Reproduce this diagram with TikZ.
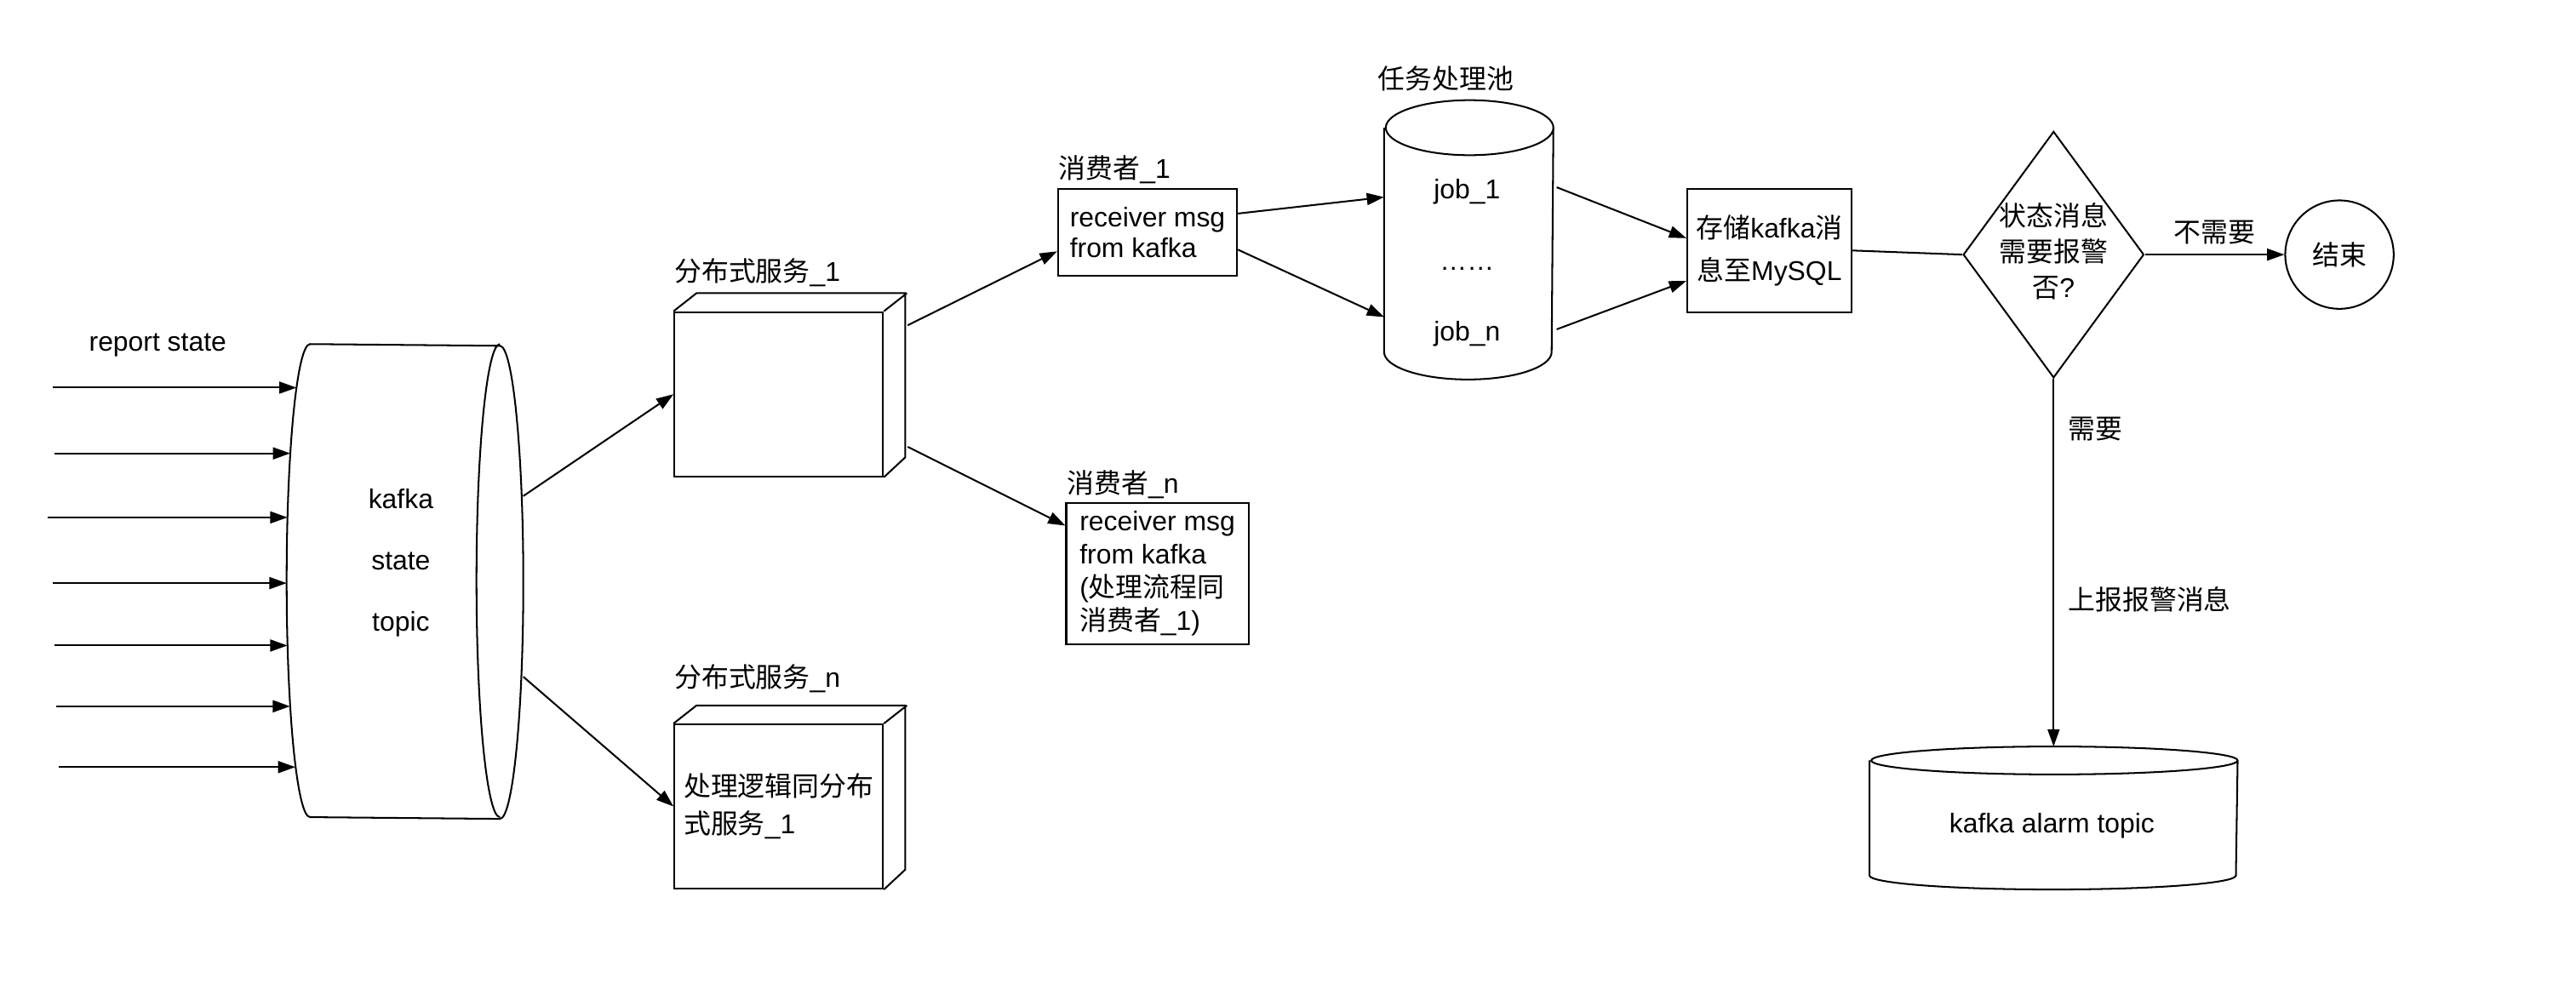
\documentclass[tikz,border=0pt]{standalone}
\usepackage{fontspec}
\setmainfont{Liberation Sans}
\newfontfamily\zh{Noto Sans CJK SC}
\usetikzlibrary{shapes.geometric,arrows.meta}

\begin{document}
\begin{tikzpicture}[x=0.2mm,y=-0.2mm,line width=0.6pt,
  font=\fontsize{9.4}{11}\selectfont,
  arr/.style={-{Triangle[length=2.1mm,width=1.45mm]}},
  frame/.style={draw,inner sep=0pt},
  hull/.style={inner sep=0pt},
  tag/.style={anchor=west,inner sep=0pt}]
  \useasboundingbox (0,0) rectangle (1568,602);

  % kafka state topic
  \node[hull, minimum width=28.6mm, minimum height=57.6mm] (kafka) at (246.5,354) {};
  \draw ([xshift=2.85mm]kafka.north west) arc[start angle=90, end angle=270, x radius=2.85mm, y radius=28.8mm]
     -- ([xshift=-2.85mm]kafka.south east) arc[start angle=-90, end angle=90, x radius=2.85mm, y radius=28.8mm] -- cycle
     ([xshift=-2.85mm]kafka.north east) arc[start angle=90, end angle=270, x radius=2.85mm, y radius=28.8mm];
  \node[align=center, font=\fontsize{9.4}{21.3}\selectfont] (kafkatxt) at (244,342.5) {kafka\\state\\topic};
  \node (lblreport) at (96,210) {report state};
  \foreach \i/\sx/\sy/\dx in {1/32/236/1.2mm, 2/33/276/0.44mm, 3/29/315/0.1mm, 4/32/355/0mm,
                              5/33/393/0.1mm, 6/34/430/0.42mm, 7/36/467/1.06mm} {
    \coordinate (in\i) at (\sx,\sy);
    \draw[arr, shorten >=-\dx] (in\i) -- (in\i -| kafka.west);
  }

  % services
  \node[frame, minimum width=25.4mm, minimum height=20mm] (svc1) at (474,240) {};
  \node[tag] (lblsvc1) at (410,166) {{\zh 分布式服务}\_1};
  \node[frame, minimum width=25.4mm, minimum height=20mm, align=left,
        font=\fontsize{9.4}{13}\selectfont] (svcN) at (474,491) {{\zh 处理逻辑同分布}\\{\zh 式服务}\_1};
  \node[tag] (lblsvcN) at (410,413) {{\zh 分布式服务}\_n};
  \foreach \n in {svc1,svcN}
    \draw (\n.north west) -- ++(14,-11) -- ++(127,0) -- ++(0,100) -- (\n.south east)
          (\n.north east) -- ++(14,-11);

  % consumers
  \node[frame, minimum width=21.8mm, minimum height=10.6mm, align=left,
        font=\fontsize{9.4}{10.8}\selectfont] (cons1) at (698.5,141.5) {receiver msg\\from kafka};
  \node[tag] (lblcons1) at (644,103) {{\zh 消费者}\_1};
  \node[frame, minimum width=22.2mm, minimum height=17.2mm, align=left,
        font=\fontsize{9.4}{11.5}\selectfont] (consN) at (704.5,349)
        {receiver msg\\from kafka\\({\zh 处理流程同}\\{\zh 消费者}\_1)};
  \node[tag] (lblconsN) at (649,295) {{\zh 消费者}\_n};

  % job pool and storage
  \node[hull, minimum width=20.4mm, minimum height=33.8mm] (pool) at (894,146) {};
  \draw ([yshift=-3.35mm]pool.north west) -- ([yshift=3.35mm]pool.south west)
     arc[start angle=180, end angle=360, x radius=10.2mm, y radius=3.35mm]
     -- ([yshift=-3.35mm]pool.north east) arc[start angle=0, end angle=360, x radius=10.2mm, y radius=3.35mm];
  \node[align=center, font=\fontsize{9.4}{24.5}\selectfont] (pooltxt) at (893,160) {job\_1\\……\\job\_n};
  \node (lblpool) at (880,48) {\zh 任务处理池};
  \node[frame, minimum width=20mm, minimum height=15mm, align=center,
        font=\fontsize{9.4}{14.8}\selectfont] (store) at (1077,152.5) {{\zh 存储}kafka{\zh 消}\\{\zh 息至}MySQL};

  % decision
  \node[diamond, draw, inner sep=0pt, minimum width=22mm, minimum height=30mm] (ask) at (1250,155) {};
  \node[align=center, font=\fontsize{9.4}{12.5}\selectfont] (asktxt) at (1250,153)
        {{\zh 状态消息}\\{\zh 需要报警}\\{\zh 否}?};
  \node[circle, draw, minimum size=13.2mm, inner sep=0pt] (finish) at (1424,155) {\zh 结束};
  \node[hull, minimum width=44.6mm, minimum height=17.2mm] (alarm) at (1250,498) {};
  \draw ([yshift=-1.7mm]alarm.north west) -- ([yshift=1.7mm]alarm.south west)
     arc[start angle=180, end angle=360, x radius=22.3mm, y radius=1.7mm]
     -- ([yshift=-1.7mm]alarm.north east) arc[start angle=0, end angle=360, x radius=22.3mm, y radius=1.7mm];
  \node (alarmtxt) at (1249,503) {kafka alarm topic};

  % connectors
  \draw[arr] ([yshift=10.4mm]kafka.east) -- (svc1.west);
  \draw[arr] ([yshift=-11.6mm]kafka.east) -- (svcN.west);
  \draw[arr] ([xshift=2.9mm,yshift=8.4mm]svc1.east) -- ([yshift=-2.3mm]cons1.west);
  \draw[arr] ([xshift=2.9mm,yshift=-6.4mm]svc1.east) -- ([yshift=5.8mm]consN.west);
  \draw[arr] ([yshift=2.3mm]cons1.east) -- ([yshift=5.2mm]pool.west);
  \draw[arr] ([yshift=-2.1mm]cons1.east) -- ([yshift=-9.4mm]pool.west);
  \draw[arr] ([xshift=0.4mm,yshift=6.4mm]pool.east) -- ([yshift=1.5mm]store.west);
  \draw[arr] ([xshift=0.4mm,yshift=-10.9mm]pool.east) -- ([yshift=-3.7mm]store.west);
  \draw (store.east) -- (ask.west);
  \draw[arr] (ask.east) -- (finish.west) node[midway, above] (lblno) {\zh 不需要};
  \draw[arr] (ask.south) -- (alarm.north)
    node[pos=0.136, right=0.5mm] (lblyes) {\zh 需要}
    node[pos=0.6, right=0.5mm] (lblreport2) {\zh 上报报警消息};
\end{tikzpicture}
\end{document}
